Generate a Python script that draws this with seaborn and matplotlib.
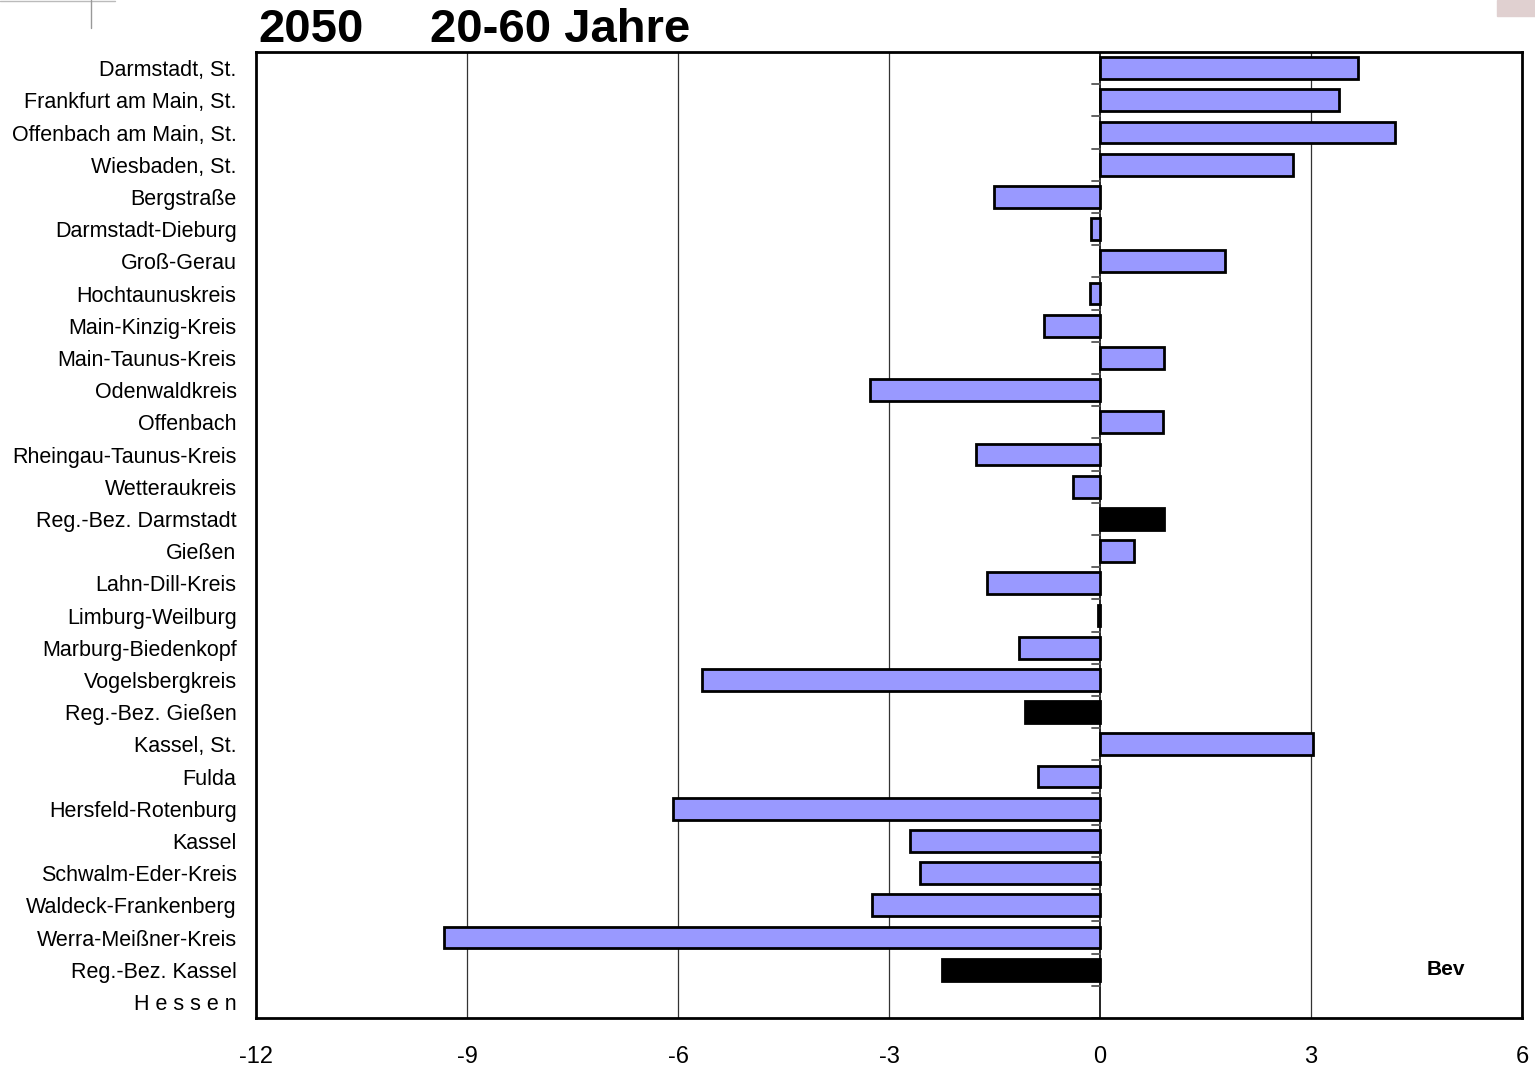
import numpy as np
import pandas as pd
import matplotlib
matplotlib.use("Agg")
import matplotlib.pyplot as plt
import seaborn as sns

kreise = ["Darmstadt, St.", "Frankfurt am Main, St.", "Offenbach am Main, St.", "Wiesbaden, St.",
          "Bergstraße", "Darmstadt-Dieburg", "Groß-Gerau", "Hochtaunuskreis", "Main-Kinzig-Kreis",
          "Main-Taunus-Kreis", "Odenwaldkreis", "Offenbach", "Rheingau-Taunus-Kreis", "Wetteraukreis",
          "Reg.-Bez. Darmstadt", "Gießen", "Lahn-Dill-Kreis", "Limburg-Weilburg", "Marburg-Biedenkopf",
          "Vogelsbergkreis", "Reg.-Bez. Gießen", "Kassel, St.", "Fulda", "Hersfeld-Rotenburg", "Kassel",
          "Schwalm-Eder-Kreis", "Waldeck-Frankenberg", "Werra-Meißner-Kreis", "Reg.-Bez. Kassel",
          "H e s s e n"]
werte = [3.67, 3.40, 4.19, 2.74, -1.51, -0.13, 1.78, -0.14, -0.80, 0.91, -3.27, 0.90, -1.76, -0.38,
         0.91, 0.48, -1.61, -0.03, -1.15, -5.66, -1.07, 3.03, -0.88, -6.07, -2.70, -2.56, -3.24, -9.33,
         -2.25, np.nan]
typ = ["Kreis"] * 14 + ["Bezirk"] + ["Kreis"] * 2 + ["Bezirk"] + ["Kreis"] * 2 + ["Bezirk"] + \
      ["Kreis"] * 7 + ["Bezirk", "Land"]
x_ticks = [-12, -9, -6, -3, 0, 3, 6]

df = pd.DataFrame({"Kreis": kreise, "Wert": werte, "Typ": typ})

sns.set_style("white")
plt.rcParams["font.family"] = ["Liberation Sans", "DejaVu Sans"]
plt.rcParams["text.color"] = "black"
plt.rcParams["xtick.color"] = "black"
plt.rcParams["ytick.color"] = "black"

fig = plt.figure(figsize=(15.35, 10.66), dpi=100)
ax = fig.add_axes([0.1668, 0.045, 0.8247, 0.9062])

for v in [-9, -6, -3, 3]:
    ax.axvline(v, color="#333333", lw=0.9, zorder=0)

sns.barplot(data=df, x="Wert", y="Kreis", hue="Typ", orient="h", dodge=False, ax=ax, order=kreise,
            palette={"Kreis": "#9999ff", "Bezirk": "#000000", "Land": "#000000"}, saturation=1,
            edgecolor="black", linewidth=2, width=0.68, legend=False, zorder=3)

ax.axvline(0, color="black", lw=1.2, zorder=2)
# kleine Striche an der Nulllinie zwischen den Kategorien
for b in np.arange(len(kreise) + 1) - 0.5:
    ax.plot([-0.12, 0], [b, b], color="#555555", lw=1.3, zorder=2)

ax.set_xlim(-12, 6)
ax.set_ylim(len(kreise) - 0.5, -0.5)
ax.set_xticks(x_ticks)
ax.set_xticklabels([str(t) for t in x_ticks], fontsize=17)
ax.tick_params(axis="x", length=0, pad=20)
ax.tick_params(axis="y", length=0, pad=14, labelsize=15.5)
ax.set_xlabel("")
ax.set_ylabel("")
for s in ax.spines.values():
    s.set_visible(True)
    s.set_color("black")
    s.set_linewidth(2)

ax.text(0.955, 0.05, "Bev", transform=ax.transAxes, ha="right", va="center",
        fontsize=15, fontweight="bold")
fig.text(0.168, 0.972, "2050", fontsize=34, fontweight="bold", ha="left", va="center")
fig.text(0.280, 0.972, "20-60 Jahre", fontsize=34, fontweight="bold", ha="left", va="center")

# Reste der Vorlage oben links / rechts
fig.add_artist(plt.Line2D([0.0, 0.075], [0.9995, 0.9995], color="#bbbbbb", lw=1))
fig.add_artist(plt.Line2D([0.059, 0.059], [1.0, 0.974], color="#999999", lw=1))
fig.add_artist(plt.Rectangle((0.975, 0.985), 0.025, 0.015, color="#e0d0d0"))

plt.savefig("out.png", dpi=100)
plt.close()
